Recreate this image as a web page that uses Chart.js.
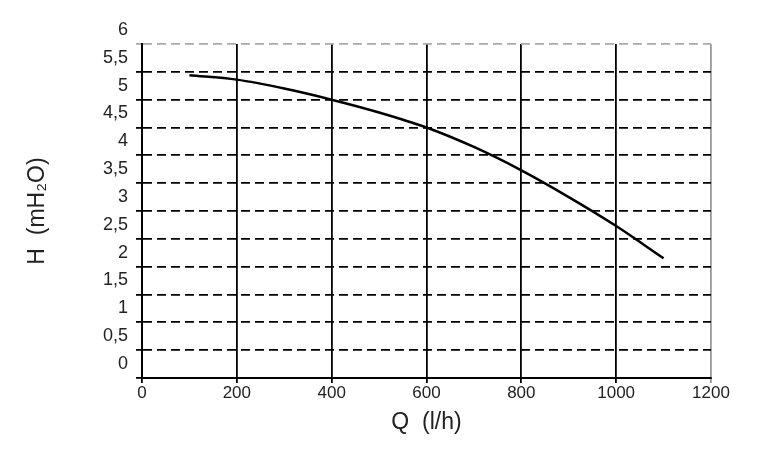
<!DOCTYPE html>
<html>
<head>
<meta charset="utf-8">
<script src="https://cdn.jsdelivr.net/npm/chart.js@4/dist/chart.umd.min.js"></script>
<style>
  html, body { margin: 0; padding: 0; background: #fff; }
  #wrap { width: 762px; height: 456px; }
</style>
</head>
<body>
<div id="wrap"><canvas id="myChart" width="762" height="456"></canvas></div>
<script>
// pump curve Q (l/h) vs H (mH2O)
let qValues = [100, 200, 300, 400, 500, 600, 700, 800, 900, 1000, 1100];
let hValues = [5.44, 5.36, 5.20, 5.00, 4.77, 4.50, 4.15, 3.73, 3.25, 2.73, 2.15];
let yTickLabels = ['0', '0,5', '1', '1,5', '2', '2,5', '3', '3,5', '4', '4,5', '5', '5,5', '6'];
let xTickLabels = ['0', '200', '400', '600', '800', '1000', '1200'];

let points = qValues.map((q, i) => ({x: q, y: hValues[i]}));
let fontFam = '"Liberation Sans", Arial, sans-serif';

new Chart(document.getElementById('myChart'),
{
    type: 'scatter',
    data:
    {
        datasets: [{
            data: points,
            showLine: true,
            borderColor: '#000',
            borderWidth: 2.5,
            pointRadius: 0,
            cubicInterpolationMode: 'monotone',
            fill: false
        }]
    },
    options:
    {
        responsive: false,
        animation: false,
        layout: { padding: { left: 20, top: 44, right: 51, bottom: 16 } },
        plugins: { legend: { display: false }, tooltip: { enabled: false } },
        scales: {
            x: {
                type: 'linear',
                min: 0,
                max: 1200,
                afterFit: (s) => { s.height = 62; },
                ticks: {
                    stepSize: 200,
                    padding: 0,
                    color: '#222',
                    font: { family: fontFam, size: 17 },
                    callback: (v, i) => xTickLabels[i]
                },
                grid: {
                    color: (c) => c.tick && c.tick.value === 1200 ? '#999' : '#000',
                    lineWidth: 1.8,
                    tickLength: 5
                },
                border: { color: '#000', width: 2 },
                title: {
                    display: true,
                    text: 'Q  (l/h)',
                    color: '#222',
                    font: { family: fontFam, size: 23 },
                    padding: { top: 4, bottom: 4 }
                }
            },
            y: {
                min: 0,
                max: 6,
                afterFit: (s) => { s.width = 122; },
                ticks: {
                    stepSize: 0.5,
                    padding: 8,
                    labelOffset: -14,
                    color: '#222',
                    font: { family: fontFam, size: 18 },
                    callback: (v, i) => yTickLabels[i]
                },
                grid: {
                    color: (c) => c.tick && c.tick.value === 6 ? '#aaa' : '#000',
                    lineWidth: 1.8,
                    tickLength: 6
                },
                border: { color: '#000', width: 2, dash: [9, 5] },
                title: {
                    display: true,
                    text: 'H  (mH₂O)',
                    color: '#222',
                    font: { family: fontFam, size: 23 },
                    padding: { top: 4, bottom: 4 }
                }
            }
        }
    }
});
</script>
</body>
</html>
